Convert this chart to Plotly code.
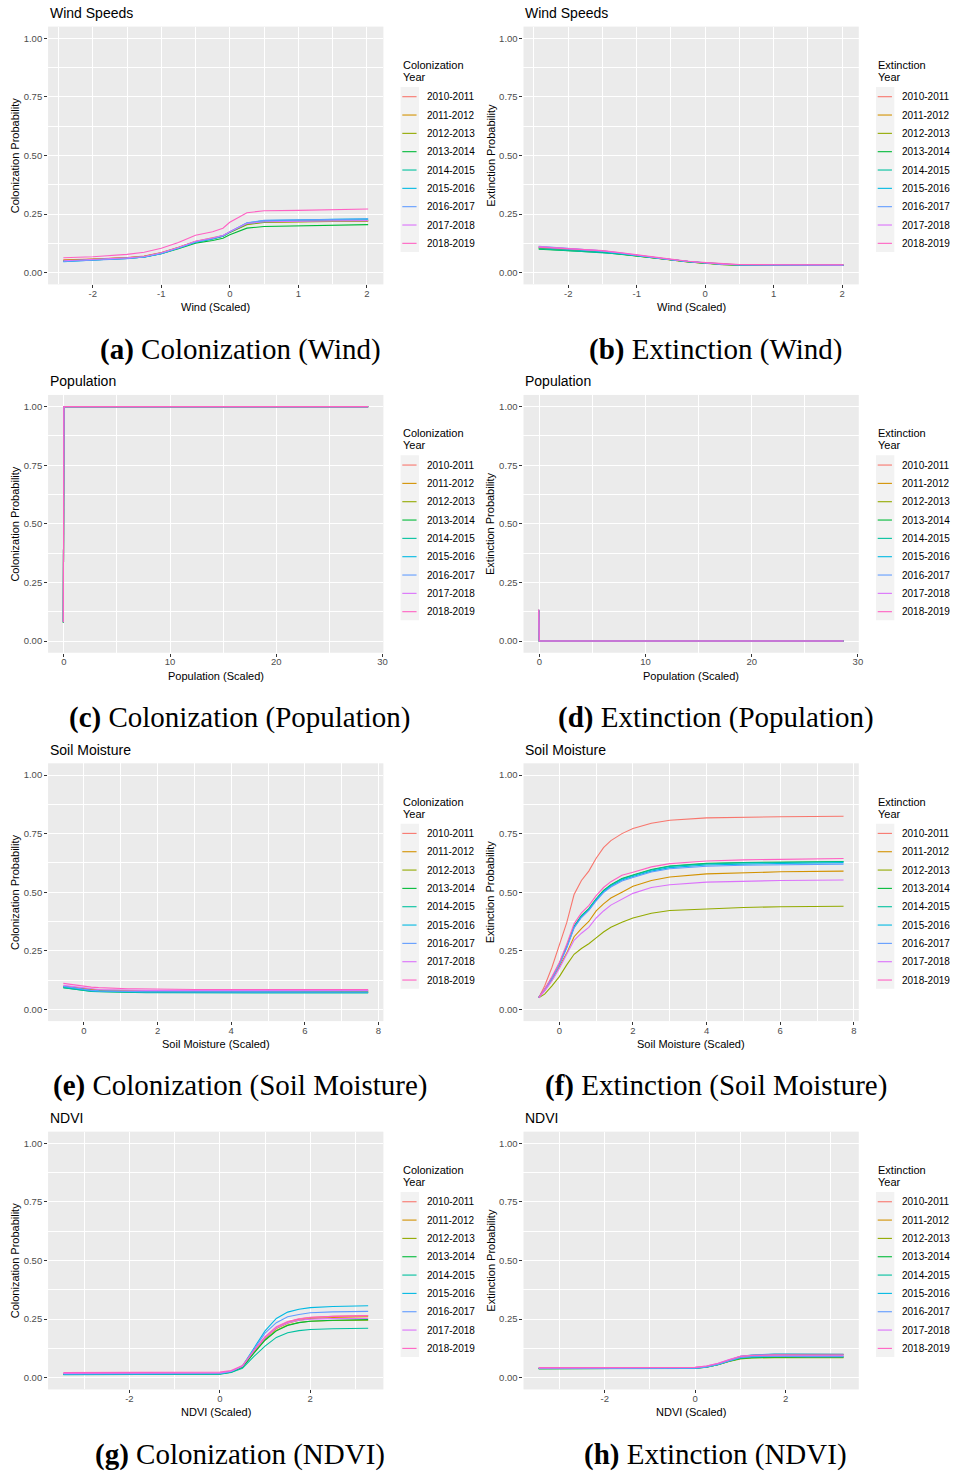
import plotly.graph_objects as go

FIG_W, FIG_H = 954, 1473

# ---------------------------------------------------------------- data
YEARS = ["2010-2011", "2011-2012", "2012-2013", "2013-2014", "2014-2015",
         "2015-2016", "2016-2017", "2017-2018", "2018-2019"]
YEAR_COLORS = ["#F8766D", "#D39200", "#93AA00", "#00BA38", "#00C19F",
               "#00B9E3", "#619CFF", "#DB72FB", "#FF61C3"]

Y_TICKS = [0, 0.25, 0.5, 0.75, 1.0]
Y_TICKTEXT = ["0.00", "0.25", "0.50", "0.75", "1.00"]

# Wind speeds
WIND_X = [-2.43, -2.0, -1.5, -1.25, -1.0, -0.75, -0.5, -0.25, -0.1, 0.0,
          0.25, 0.5, 1.0, 1.5, 2.02]
WIND_TICKS = [-2, -1, 0, 1, 2]
COL_WIND = [
    [0.055, 0.058, 0.065, 0.071, 0.086, 0.108, 0.134, 0.147, 0.158, 0.174, 0.209, 0.217, 0.220, 0.221, 0.222],
    [0.053, 0.057, 0.064, 0.070, 0.085, 0.107, 0.133, 0.146, 0.157, 0.173, 0.207, 0.216, 0.219, 0.220, 0.221],
    [0.052, 0.056, 0.063, 0.069, 0.084, 0.106, 0.131, 0.145, 0.156, 0.171, 0.205, 0.214, 0.218, 0.219, 0.220],
    [0.050, 0.054, 0.061, 0.067, 0.081, 0.102, 0.126, 0.137, 0.147, 0.162, 0.190, 0.197, 0.200, 0.203, 0.205],
    [0.049, 0.054, 0.061, 0.067, 0.082, 0.104, 0.130, 0.144, 0.156, 0.172, 0.209, 0.218, 0.222, 0.224, 0.226],
    [0.047, 0.053, 0.060, 0.066, 0.081, 0.104, 0.130, 0.145, 0.157, 0.174, 0.212, 0.222, 0.226, 0.228, 0.230],
    [0.048, 0.053, 0.060, 0.067, 0.082, 0.105, 0.131, 0.146, 0.158, 0.175, 0.213, 0.223, 0.226, 0.228, 0.229],
    [0.051, 0.056, 0.063, 0.069, 0.085, 0.107, 0.134, 0.148, 0.159, 0.175, 0.210, 0.217, 0.220, 0.221, 0.222],
    [0.064, 0.068, 0.078, 0.087, 0.104, 0.129, 0.160, 0.175, 0.190, 0.215, 0.256, 0.264, 0.266, 0.270, 0.272],
]
EXT_WIND = [
    [0.110, 0.102, 0.092, 0.083, 0.074, 0.064, 0.055, 0.048, 0.044, 0.042, 0.036, 0.034, 0.033, 0.033, 0.033],
    [0.106, 0.099, 0.089, 0.081, 0.072, 0.062, 0.053, 0.046, 0.043, 0.041, 0.034, 0.032, 0.031, 0.031, 0.031],
    [0.104, 0.097, 0.088, 0.080, 0.071, 0.062, 0.053, 0.046, 0.043, 0.040, 0.034, 0.032, 0.031, 0.031, 0.031],
    [0.100, 0.094, 0.086, 0.079, 0.071, 0.062, 0.053, 0.046, 0.043, 0.041, 0.035, 0.033, 0.032, 0.032, 0.032],
    [0.102, 0.095, 0.087, 0.080, 0.072, 0.063, 0.054, 0.047, 0.044, 0.041, 0.035, 0.033, 0.032, 0.032, 0.032],
    [0.108, 0.100, 0.090, 0.082, 0.073, 0.063, 0.054, 0.047, 0.044, 0.042, 0.035, 0.033, 0.032, 0.032, 0.032],
    [0.113, 0.104, 0.093, 0.084, 0.074, 0.064, 0.055, 0.048, 0.044, 0.042, 0.036, 0.034, 0.033, 0.032, 0.032],
    [0.111, 0.103, 0.093, 0.085, 0.075, 0.065, 0.056, 0.049, 0.045, 0.043, 0.036, 0.034, 0.033, 0.033, 0.033],
    [0.109, 0.103, 0.094, 0.086, 0.076, 0.066, 0.056, 0.049, 0.045, 0.043, 0.037, 0.035, 0.034, 0.034, 0.034],
]

# Population
POP_X = [-0.05, -0.045, -0.04, -0.035, -0.03, -0.02, 0.0, 5.0, 10.0, 15.0, 20.0, 25.0, 28.65]
POP_TICKS = [0, 10, 20, 30]
COL_POP = [
    [0.082, 0.25, 0.50, 0.75, 0.90, 0.98, 1.0, 1.0, 1.0, 1.0, 1.0, 1.0, 1.0],
    [0.080, 0.25, 0.50, 0.75, 0.90, 0.98, 1.0, 1.0, 1.0, 1.0, 1.0, 1.0, 1.0],
    [0.079, 0.24, 0.49, 0.74, 0.90, 0.98, 1.0, 1.0, 1.0, 1.0, 1.0, 1.0, 1.0],
    [0.078, 0.24, 0.49, 0.74, 0.89, 0.98, 1.0, 1.0, 1.0, 1.0, 1.0, 1.0, 1.0],
    [0.079, 0.24, 0.49, 0.74, 0.90, 0.98, 1.0, 1.0, 1.0, 1.0, 1.0, 1.0, 1.0],
    [0.081, 0.25, 0.50, 0.75, 0.90, 0.98, 1.0, 1.0, 1.0, 1.0, 1.0, 1.0, 1.0],
    [0.083, 0.26, 0.51, 0.76, 0.91, 0.98, 1.0, 1.0, 1.0, 1.0, 1.0, 1.0, 1.0],
    [0.080, 0.25, 0.50, 0.75, 0.90, 0.98, 1.0, 1.0, 1.0, 1.0, 1.0, 1.0, 1.0],
    [0.081, 0.25, 0.50, 0.75, 0.90, 0.98, 1.0, 1.0, 1.0, 1.0, 1.0, 1.0, 1.0],
]
EXT_POP = [
    [0.128, 0.090, 0.050, 0.020, 0.008, 0.002, 0.0, 0.0, 0.0, 0.0, 0.0, 0.0, 0.0],
    [0.131, 0.091, 0.051, 0.021, 0.008, 0.002, 0.0, 0.0, 0.0, 0.0, 0.0, 0.0, 0.0],
    [0.133, 0.092, 0.052, 0.021, 0.008, 0.002, 0.0, 0.0, 0.0, 0.0, 0.0, 0.0, 0.0],
    [0.130, 0.090, 0.050, 0.020, 0.008, 0.002, 0.0, 0.0, 0.0, 0.0, 0.0, 0.0, 0.0],
    [0.129, 0.090, 0.050, 0.020, 0.008, 0.002, 0.0, 0.0, 0.0, 0.0, 0.0, 0.0, 0.0],
    [0.132, 0.091, 0.051, 0.021, 0.008, 0.002, 0.0, 0.0, 0.0, 0.0, 0.0, 0.0, 0.0],
    [0.134, 0.092, 0.052, 0.021, 0.008, 0.002, 0.0, 0.0, 0.0, 0.0, 0.0, 0.0, 0.0],
    [0.130, 0.090, 0.050, 0.020, 0.008, 0.002, 0.0, 0.0, 0.0, 0.0, 0.0, 0.0, 0.0],
    [0.135, 0.093, 0.052, 0.021, 0.008, 0.002, 0.0, 0.0, 0.0, 0.0, 0.0, 0.0, 0.0],
]

# Soil moisture
SOIL_X = [-0.56, -0.4, -0.2, 0.0, 0.2, 0.4, 0.6, 0.8, 1.0, 1.2, 1.4, 1.7, 2.0,
          2.5, 3.0, 4.0, 5.0, 6.0, 7.72]
SOIL_TICKS = [0, 2, 4, 6, 8]
COL_SOIL = [
    [0.100, 0.097, 0.092, 0.087, 0.084, 0.081, 0.079, 0.078, 0.077, 0.077, 0.076, 0.076, 0.076, 0.075, 0.075, 0.075, 0.075, 0.075, 0.075],
    [0.098, 0.095, 0.091, 0.087, 0.085, 0.083, 0.082, 0.081, 0.080, 0.080, 0.080, 0.079, 0.079, 0.079, 0.079, 0.079, 0.079, 0.079, 0.079],
    [0.096, 0.093, 0.089, 0.085, 0.083, 0.081, 0.080, 0.079, 0.078, 0.078, 0.078, 0.078, 0.078, 0.078, 0.078, 0.078, 0.078, 0.078, 0.078],
    [0.092, 0.089, 0.084, 0.080, 0.078, 0.076, 0.075, 0.074, 0.073, 0.073, 0.073, 0.073, 0.072, 0.072, 0.072, 0.072, 0.072, 0.072, 0.072],
    [0.093, 0.089, 0.084, 0.079, 0.077, 0.075, 0.074, 0.073, 0.072, 0.072, 0.072, 0.071, 0.071, 0.071, 0.071, 0.070, 0.070, 0.070, 0.070],
    [0.097, 0.093, 0.088, 0.083, 0.080, 0.078, 0.077, 0.076, 0.075, 0.075, 0.074, 0.074, 0.074, 0.074, 0.074, 0.073, 0.073, 0.073, 0.073],
    [0.099, 0.095, 0.089, 0.084, 0.081, 0.079, 0.078, 0.077, 0.076, 0.076, 0.075, 0.075, 0.075, 0.075, 0.074, 0.074, 0.074, 0.074, 0.074],
    [0.103, 0.100, 0.095, 0.090, 0.087, 0.085, 0.084, 0.083, 0.082, 0.082, 0.081, 0.081, 0.081, 0.081, 0.081, 0.081, 0.081, 0.081, 0.081],
    [0.111, 0.107, 0.102, 0.097, 0.095, 0.093, 0.091, 0.090, 0.089, 0.088, 0.088, 0.087, 0.086, 0.086, 0.085, 0.085, 0.085, 0.085, 0.085],
]
EXT_SOIL = [
    [0.05, 0.100, 0.180, 0.280, 0.370, 0.490, 0.550, 0.590, 0.645, 0.690, 0.720, 0.750, 0.772, 0.794, 0.807, 0.817, 0.820, 0.822, 0.824],
    [0.05, 0.080, 0.125, 0.180, 0.240, 0.310, 0.345, 0.375, 0.420, 0.450, 0.475, 0.500, 0.525, 0.550, 0.565, 0.578, 0.584, 0.587, 0.590],
    [0.05, 0.065, 0.100, 0.140, 0.190, 0.235, 0.260, 0.280, 0.305, 0.330, 0.350, 0.372, 0.390, 0.410, 0.422, 0.430, 0.435, 0.438, 0.440],
    [0.05, 0.085, 0.135, 0.195, 0.270, 0.355, 0.400, 0.430, 0.472, 0.508, 0.532, 0.558, 0.573, 0.597, 0.612, 0.623, 0.627, 0.629, 0.631],
    [0.05, 0.085, 0.135, 0.195, 0.268, 0.352, 0.398, 0.428, 0.470, 0.505, 0.530, 0.556, 0.571, 0.595, 0.610, 0.621, 0.625, 0.628, 0.630],
    [0.05, 0.084, 0.133, 0.193, 0.265, 0.350, 0.395, 0.425, 0.467, 0.502, 0.526, 0.552, 0.567, 0.590, 0.605, 0.616, 0.620, 0.623, 0.626],
    [0.05, 0.083, 0.132, 0.190, 0.262, 0.347, 0.392, 0.422, 0.463, 0.498, 0.522, 0.548, 0.563, 0.586, 0.600, 0.611, 0.615, 0.618, 0.620],
    [0.05, 0.078, 0.122, 0.175, 0.235, 0.295, 0.325, 0.350, 0.390, 0.420, 0.445, 0.470, 0.495, 0.520, 0.532, 0.543, 0.548, 0.550, 0.552],
    [0.05, 0.087, 0.140, 0.200, 0.278, 0.365, 0.412, 0.443, 0.485, 0.520, 0.545, 0.572, 0.585, 0.608, 0.622, 0.633, 0.638, 0.641, 0.644],
]

# NDVI
NDVI_X = [-3.46, -2.0, -1.0, 0.0, 0.25, 0.5, 0.75, 1.0, 1.25, 1.5, 1.75, 2.0, 2.5, 3.28]
NDVI_TICKS = [-2, 0, 2]
COL_NDVI = [
    [0.017, 0.017, 0.017, 0.019, 0.027, 0.048, 0.112, 0.172, 0.215, 0.238, 0.250, 0.257, 0.262, 0.265],
    [0.016, 0.016, 0.016, 0.018, 0.026, 0.047, 0.110, 0.168, 0.210, 0.233, 0.245, 0.252, 0.257, 0.260],
    [0.015, 0.015, 0.015, 0.017, 0.025, 0.045, 0.106, 0.162, 0.202, 0.225, 0.236, 0.241, 0.244, 0.246],
    [0.014, 0.014, 0.014, 0.016, 0.024, 0.044, 0.104, 0.160, 0.200, 0.223, 0.235, 0.241, 0.245, 0.248],
    [0.013, 0.013, 0.013, 0.015, 0.022, 0.040, 0.090, 0.135, 0.172, 0.192, 0.201, 0.206, 0.209, 0.211],
    [0.015, 0.015, 0.015, 0.017, 0.027, 0.050, 0.125, 0.200, 0.253, 0.280, 0.292, 0.299, 0.304, 0.307],
    [0.016, 0.016, 0.016, 0.018, 0.027, 0.050, 0.120, 0.190, 0.235, 0.260, 0.270, 0.277, 0.281, 0.283],
    [0.018, 0.018, 0.018, 0.020, 0.028, 0.049, 0.113, 0.170, 0.212, 0.234, 0.245, 0.250, 0.252, 0.253],
    [0.022, 0.022, 0.022, 0.024, 0.031, 0.052, 0.115, 0.175, 0.218, 0.240, 0.252, 0.258, 0.262, 0.265],
]
EXT_NDVI = [
    [0.041, 0.041, 0.041, 0.043, 0.048, 0.059, 0.075, 0.090, 0.096, 0.099, 0.100, 0.100, 0.100, 0.100],
    [0.040, 0.040, 0.040, 0.042, 0.047, 0.058, 0.074, 0.089, 0.095, 0.097, 0.098, 0.099, 0.099, 0.099],
    [0.039, 0.039, 0.039, 0.041, 0.045, 0.055, 0.069, 0.080, 0.084, 0.086, 0.086, 0.086, 0.086, 0.086],
    [0.039, 0.039, 0.039, 0.041, 0.046, 0.056, 0.070, 0.082, 0.086, 0.088, 0.088, 0.088, 0.088, 0.088],
    [0.039, 0.039, 0.039, 0.040, 0.045, 0.056, 0.071, 0.084, 0.089, 0.091, 0.092, 0.092, 0.092, 0.092],
    [0.040, 0.040, 0.040, 0.041, 0.047, 0.058, 0.075, 0.091, 0.097, 0.100, 0.101, 0.101, 0.100, 0.100],
    [0.040, 0.040, 0.040, 0.041, 0.046, 0.057, 0.072, 0.086, 0.090, 0.091, 0.091, 0.091, 0.090, 0.090],
    [0.042, 0.042, 0.042, 0.044, 0.050, 0.062, 0.078, 0.092, 0.096, 0.097, 0.097, 0.097, 0.096, 0.096],
    [0.043, 0.043, 0.043, 0.044, 0.050, 0.061, 0.077, 0.091, 0.095, 0.097, 0.097, 0.097, 0.097, 0.097],
]

PANELS = [
    dict(title="Wind Speeds", kind="Colonization", x=WIND_X, series=COL_WIND, ticks=WIND_TICKS,
         xlabel="Wind (Scaled)", tag="(a)", caption="Colonization (Wind)"),
    dict(title="Wind Speeds", kind="Extinction", x=WIND_X, series=EXT_WIND, ticks=WIND_TICKS,
         xlabel="Wind (Scaled)", tag="(b)", caption="Extinction (Wind)"),
    dict(title="Population", kind="Colonization", x=POP_X, series=COL_POP, ticks=POP_TICKS,
         xlabel="Population (Scaled)", tag="(c)", caption="Colonization (Population)"),
    dict(title="Population", kind="Extinction", x=POP_X, series=EXT_POP, ticks=POP_TICKS,
         xlabel="Population (Scaled)", tag="(d)", caption="Extinction (Population)"),
    dict(title="Soil Moisture", kind="Colonization", x=SOIL_X, series=COL_SOIL, ticks=SOIL_TICKS,
         xlabel="Soil Moisture (Scaled)", tag="(e)", caption="Colonization (Soil Moisture)"),
    dict(title="Soil Moisture", kind="Extinction", x=SOIL_X, series=EXT_SOIL, ticks=SOIL_TICKS,
         xlabel="Soil Moisture (Scaled)", tag="(f)", caption="Extinction (Soil Moisture)"),
    dict(title="NDVI", kind="Colonization", x=NDVI_X, series=COL_NDVI, ticks=NDVI_TICKS,
         xlabel="NDVI (Scaled)", tag="(g)", caption="Colonization (NDVI)"),
    dict(title="NDVI", kind="Extinction", x=NDVI_X, series=EXT_NDVI, ticks=NDVI_TICKS,
         xlabel="NDVI (Scaled)", tag="(h)", caption="Extinction (NDVI)"),
]

# ---------------------------------------------------------------- layout geometry (px)
PANEL_LEFT = [48.3, 525.7]
PANEL_W = 336.7
PANEL_TOP0 = 26.6
ROW_STEP = 368.35
PANEL_H = 257.8
Y_RANGE = [-0.05, 1.05]

SANS = "Liberation Sans, Arial, sans-serif"
SERIF = "Liberation Serif, Times New Roman, serif"
PANEL_BG = "#EBEBEB"
KEY_BG = "#F2F2F2"


def px_x(px):
    return px / FIG_W


def px_y(py):
    return 1 - py / FIG_H


def midpoints(ticks, lo, hi):
    step = ticks[1] - ticks[0]
    cand = [t + step / 2 for t in [ticks[0] - step] + list(ticks)]
    return [m for m in cand if lo <= m <= hi]


fig = go.Figure()
annotations = []
shapes = []
axes = {}

for i, p in enumerate(PANELS):
    row, col = divmod(i, 2)
    left = PANEL_LEFT[col]
    top = PANEL_TOP0 + ROW_STEP * row
    suffix = "" if i == 0 else str(i + 1)
    xid, yid = "x" + suffix, "y" + suffix

    for name, color, ys in zip(YEARS, YEAR_COLORS, p["series"]):
        fig.add_trace(go.Scatter(
            x=p["x"], y=ys, mode="lines", name=name,
            line=dict(color=color, width=1.1),
            xaxis=xid, yaxis=yid, showlegend=False,
        ))

    lo, hi = min(p["x"]), max(p["x"])
    pad = 0.05 * (hi - lo)
    xr = [lo - pad, hi + pad]

    common = dict(
        showline=False, zeroline=False, showgrid=True,
        gridcolor="white", gridwidth=1.1,
        ticks="outside", ticklen=3, tickwidth=1, tickcolor="#333333",
        tickfont=dict(family=SANS, size=9.5, color="#4D4D4D"),
        fixedrange=True,
    )
    axes["xaxis" + suffix] = dict(
        domain=[px_x(left), px_x(left + PANEL_W)], anchor=yid, range=xr,
        tickmode="array", tickvals=p["ticks"], ticktext=[f"{t:g}" for t in p["ticks"]],
        ticklabelstandoff=-3,
        minor=dict(tickmode="array", tickvals=midpoints(p["ticks"], xr[0], xr[1]),
                   showgrid=True, gridcolor="white", gridwidth=0.55, ticks=""),
        **common,
    )
    axes["yaxis" + suffix] = dict(
        domain=[px_y(top + PANEL_H), px_y(top)], anchor=xid, range=Y_RANGE,
        tickmode="array", tickvals=Y_TICKS, ticktext=Y_TICKTEXT,
        minor=dict(tickmode="array", tickvals=midpoints(Y_TICKS, Y_RANGE[0], Y_RANGE[1]),
                   showgrid=True, gridcolor="white", gridwidth=0.55, ticks=""),
        **common,
    )

    # panel title
    annotations.append(dict(
        text=p["title"], x=px_x(left), y=px_y(top - 13.6), xref="paper", yref="paper",
        xanchor="left", yanchor="middle", showarrow=False,
        font=dict(family=SANS, size=14, color="black"),
    ))
    # axis titles
    annotations.append(dict(
        text=f"{p['kind']} Probability", x=px_x(left - 33.5), y=px_y(top + PANEL_H / 2),
        xref="paper", yref="paper", xanchor="center", yanchor="middle",
        textangle=-90, showarrow=False,
        font=dict(family=SANS, size=11, color="black"),
    ))
    annotations.append(dict(
        text=p["xlabel"], x=px_x(left + PANEL_W / 2), y=px_y(top + 280.7),
        xref="paper", yref="paper", xanchor="center", yanchor="middle", showarrow=False,
        font=dict(family=SANS, size=11, color="black"),
    ))

    # legend
    lx = left + 354.0
    annotations.append(dict(
        text=p["kind"], x=px_x(lx), y=px_y(top + 38.4), xref="paper", yref="paper",
        xanchor="left", yanchor="middle", showarrow=False,
        font=dict(family=SANS, size=11, color="black"),
    ))
    annotations.append(dict(
        text="Year", x=px_x(lx), y=px_y(top + 50.3), xref="paper", yref="paper",
        xanchor="left", yanchor="middle", showarrow=False,
        font=dict(family=SANS, size=11, color="black"),
    ))
    shapes.append(dict(
        type="rect", xref="paper", yref="paper",
        x0=px_x(lx), x1=px_x(lx + 18.4), y0=px_y(top + 60.4), y1=px_y(top + 225.4),
        fillcolor=KEY_BG, line=dict(width=0), layer="below",
    ))
    for k, (name, color) in enumerate(zip(YEARS, YEAR_COLORS)):
        ky = top + 70.1 + 18.33 * k
        shapes.append(dict(
            type="line", xref="paper", yref="paper",
            x0=px_x(lx + 1.7), x1=px_x(lx + 16.0), y0=px_y(ky), y1=px_y(ky),
            line=dict(color=color, width=1.1),
        ))
        annotations.append(dict(
            text=name, x=px_x(lx + 24.2), y=px_y(ky), xref="paper", yref="paper",
            xanchor="left", yanchor="middle", showarrow=False,
            font=dict(family=SANS, size=10, color="black"),
        ))

    # sub-figure caption
    annotations.append(dict(
        text=f"<b>{p['tag']}</b> {p['caption']}", x=px_x(left + 193), y=px_y(top + 322.5),
        xref="paper", yref="paper", xanchor="center", yanchor="middle", showarrow=False,
        font=dict(family=SERIF, size=29, color="black"),
    ))

fig.update_layout(
    width=FIG_W, height=FIG_H,
    margin=dict(l=0, r=0, t=0, b=0),
    paper_bgcolor="white", plot_bgcolor=PANEL_BG,
    showlegend=False,
    annotations=annotations, shapes=shapes,
    **axes,
)

fig.write_html("out.html")
